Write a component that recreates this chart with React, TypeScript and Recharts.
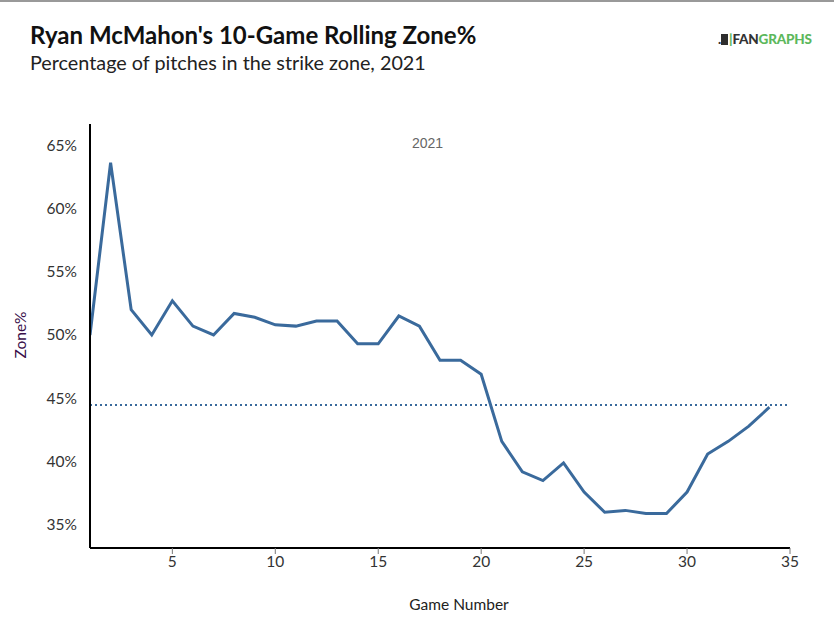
import React from 'react';
import { LineChart, Line, XAxis, YAxis, ReferenceLine } from 'recharts';

const games = [1,2,3,4,5,6,7,8,9,10,11,12,13,14,15,16,17,18,19,20,21,22,23,24,25,26,27,28,29,30,31,32,33,34];
const zonePct = [50.0,63.6,52.0,50.0,52.7,50.7,50.0,51.7,51.4,50.8,50.7,51.1,51.1,49.3,49.3,51.5,50.7,48.0,48.0,46.9,41.6,39.2,38.5,39.9,37.6,36.0,36.15,35.9,35.9,37.6,40.6,41.6,42.8,44.3];
const seasonAvg = 44.47;
const xTicks = [5,10,15,20,25,30,35];
const yTicks = [35,40,45,50,55,60,65];

const data = games.map((g, i) => ({ game: g, zone: zonePct[i] }));

const LINE = '#3a6a9c';
const FONT = 'Lato, "Open Sans", sans-serif';

export default function App() {
  return (
    <div style={{ position: 'absolute', left: 0, top: 0, width: 834, height: 644, background: '#fff', fontFamily: FONT, overflow: 'hidden' }}>
      <div style={{ position: 'absolute', left: 0, top: 0, width: 834, height: 2, background: '#999' }} />
      <div style={{ position: 'absolute', left: 30, top: 20, fontSize: 24, fontWeight: 700, color: '#111', whiteSpace: 'nowrap' }}>
        Ryan McMahon's 10-Game Rolling Zone%
      </div>
      <div style={{ position: 'absolute', left: 30, top: 50, fontSize: 19.8, color: '#222', whiteSpace: 'nowrap' }}>
        Percentage of pitches in the strike zone, 2021
      </div>
      <div style={{ position: 'absolute', left: 718, top: 31, fontSize: 13.5, fontWeight: 900, whiteSpace: 'nowrap', letterSpacing: -0.2 }}>
        <span style={{ color: '#333' }}>.</span>
        <span style={{ display: 'inline-block', width: 7, height: 11, background: '#2e2e2e', marginRight: 1, verticalAlign: -1 }} />
        <span style={{ color: '#5cb85c' }}>|</span>
        <span style={{ color: '#333' }}>FAN</span>
        <span style={{ color: '#5cb85c' }}>GRAPHS</span>
      </div>
      <div style={{ position: 'absolute', left: 412, top: 135, fontSize: 14, color: '#666', fontFamily: '"Liberation Sans", Arial, sans-serif' }}>2021</div>
      <div style={{ position: 'absolute', left: 20, top: 335, transform: 'translate(-50%, -50%) rotate(-90deg)', fontSize: 15.5, color: '#3a0f4a', whiteSpace: 'nowrap' }}>Zone%</div>
      <div style={{ position: 'absolute', left: 459, top: 604, transform: 'translate(-50%, -50%)', fontSize: 15.5, color: '#222', whiteSpace: 'nowrap' }}>Game Number</div>
      <div style={{ position: 'absolute', left: 0, top: 0 }}>
        <LineChart width={834} height={644} data={data} margin={{ top: 124, right: 44, bottom: 66, left: 30 }}>
          <XAxis
            dataKey="game"
            type="number"
            domain={[1, 35]}
            ticks={xTicks}
            allowDataOverflow
            height={30}
            axisLine={{ stroke: '#000', strokeWidth: 2 }}
            tickLine={{ stroke: '#777', strokeWidth: 1 }}
            tickSize={6}
            tick={{ fill: '#333', fontSize: 15.5, fontFamily: FONT }}
          />
          <YAxis
            type="number"
            domain={[33.18, 66.66]}
            ticks={yTicks}
            allowDataOverflow
            width={60}
            axisLine={{ stroke: '#000', strokeWidth: 2 }}
            tickLine={false}
            tickMargin={7}
            tickFormatter={(v) => `${v}%`}
            tick={{ fill: '#333', fontSize: 15.5, fontFamily: FONT }}
          />
          <ReferenceLine y={seasonAvg} stroke={LINE} strokeWidth={2} strokeDasharray="2 3" />
          <Line type="linear" dataKey="zone" stroke={LINE} strokeWidth={3} dot={false} isAnimationActive={false} />
        </LineChart>
      </div>
    </div>
  );
}
